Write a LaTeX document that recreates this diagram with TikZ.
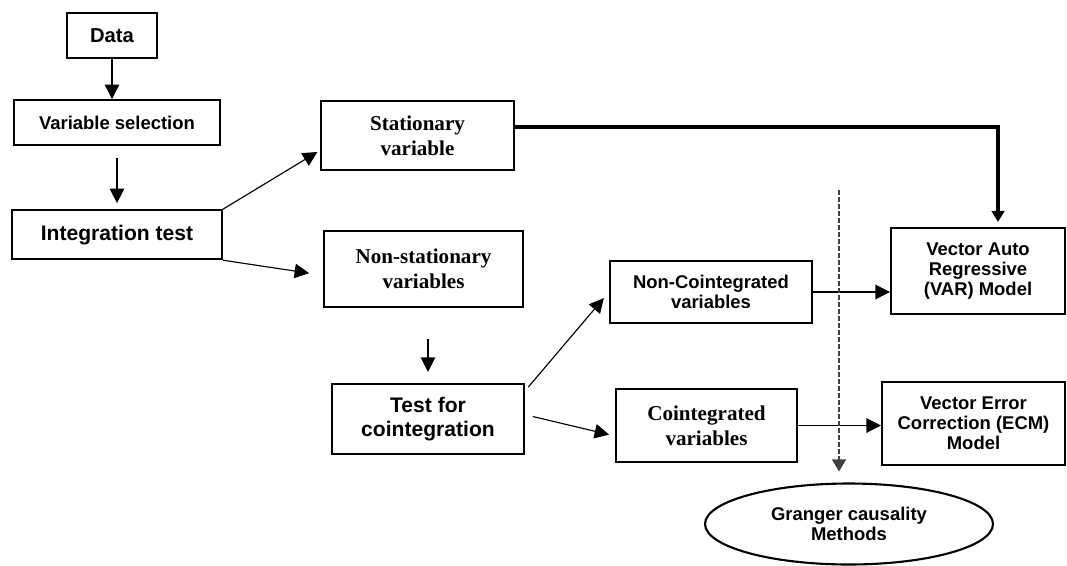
\documentclass[tikz,border=0pt]{standalone}
\usepackage{fontspec}
\setmainfont{Liberation Serif}
\setsansfont{Liberation Sans}
\usetikzlibrary{shapes,arrows.meta,positioning,calc}
\tikzset{
    block/.style={
        draw,
        rectangle,
        line width=1.2pt,
        inner sep=1pt,
        font=\sffamily\bfseries\fontsize{10.5}{11.5}\selectfont
    },
    bigblock/.style={
        block,
        font=\sffamily\bfseries\fontsize{12}{13.2}\selectfont
    },
    serifblock/.style={
        block,
        font=\rmfamily\bfseries\fontsize{12}{14}\selectfont
    },
    oval/.style={
        draw,
        ellipse,
        line width=1.2pt,
        inner sep=0pt,
        font=\sffamily\bfseries\fontsize{10.5}{11.5}\selectfont
    },
    link/.style={
        -{Triangle[length=0.29cm,width=0.29cm]},
        line width=0.65pt
    },
    mainlink/.style={
        -{Triangle[length=0.22cm,width=0.25cm]},
        line width=2.2pt
    },
    splitline/.style={
        -{Triangle[length=0.24cm,width=0.28cm]},
        draw=black!75,
        dash pattern=on 0.1cm off 0.04cm,
        line width=0.65pt
    },
}
\begin{document}
\begin{tikzpicture}[x=0.02cm, y=-0.02cm, align=center]
    \useasboundingbox (0,0) rectangle (1067,565);
    % blocks
    \node[block, minimum width=1.8cm, minimum height=0.9cm, font=\sffamily\bfseries\fontsize{11.5}{12.5}\selectfont] (data) at (112,35.5) {Data};
    \node[block, minimum width=4.12cm, minimum height=0.9cm, below=0.8cm of data.south, anchor=north, xshift=0.1cm] (varsel) {Variable selection};
    \node[bigblock, minimum width=4.2cm, minimum height=0.98cm, below=1.26cm of varsel.south, anchor=north] (integ) {Integration test};
    \node[serifblock, minimum width=3.86cm, minimum height=1.38cm] (stat) at (417.5,135.5) {Stationary\\variable};
    \node[serifblock, minimum width=3.98cm, minimum height=1.52cm] (nonstat) at (423.5,269) {Non-stationary\\variables};
    \node[bigblock, minimum width=3.84cm, minimum height=1.4cm] (test) at (428,419) {Test for\\cointegration};
    \node[block, minimum width=4.04cm, minimum height=1.24cm] (noncoint) at (711,292) {Non-Cointegrated\\variables};
    \node[serifblock, minimum width=3.62cm, minimum height=1.46cm] (coint) at (706.5,425.5) {Cointegrated\\variables};
    \node[block, minimum width=3.48cm, minimum height=1.72cm] (var) at (978,271) {Vector Auto\\Regressive\\(VAR) Model};
    \node[block, minimum width=3.66cm, minimum height=1.66cm] (ecm) at (973.5,423.5) {Vector Error\\Correction (ECM)\\Model};
    \node[oval, minimum width=5.76cm, minimum height=1.62cm] (gc) at (849,524) {Granger causality\\Methods};
    \coordinate (dtop) at (839,190);

    % lines
    \draw[link] (data.south) -- (data.south |- varsel.north);
    \draw[link, shorten <=0.24cm, shorten >=0.12cm] (varsel.south) -- (varsel.south |- integ.north);
    \draw[link, shorten >=0.06cm] (integ.north east) -- ($(stat.south west)!0.29!(stat.north west)$);
    \draw[link, shorten >=0.28cm] (integ.south east) -- ($(nonstat.south west)!0.42!(nonstat.north west)$);
    \draw[link, shorten <=0.62cm, shorten >=0.22cm] (test.north |- nonstat.south) -- (test.north);
    \draw[link, shorten <=0.1cm, shorten >=0.16cm] ($(test.south east)!0.89!(test.north east)$) -- (noncoint.west);
    \draw[link, shorten <=0.16cm, shorten >=0.12cm] ($(test.south east)!0.56!(test.north east)$) -- ($(coint.south west)!0.36!(coint.north west)$);
    \draw[link] (noncoint.east) -- (noncoint.east -| var.west);
    \draw[link] (coint.east) -- (coint.east -| ecm.west);
    \draw[mainlink, shorten >=0.1cm] ($(stat.south east)!0.62!(stat.north east)$) -| ($(var.north)+(20,0)$);
    \draw[splitline, shorten >=0.22cm] (dtop) -- (dtop |- gc.north);
\end{tikzpicture}
\end{document}
